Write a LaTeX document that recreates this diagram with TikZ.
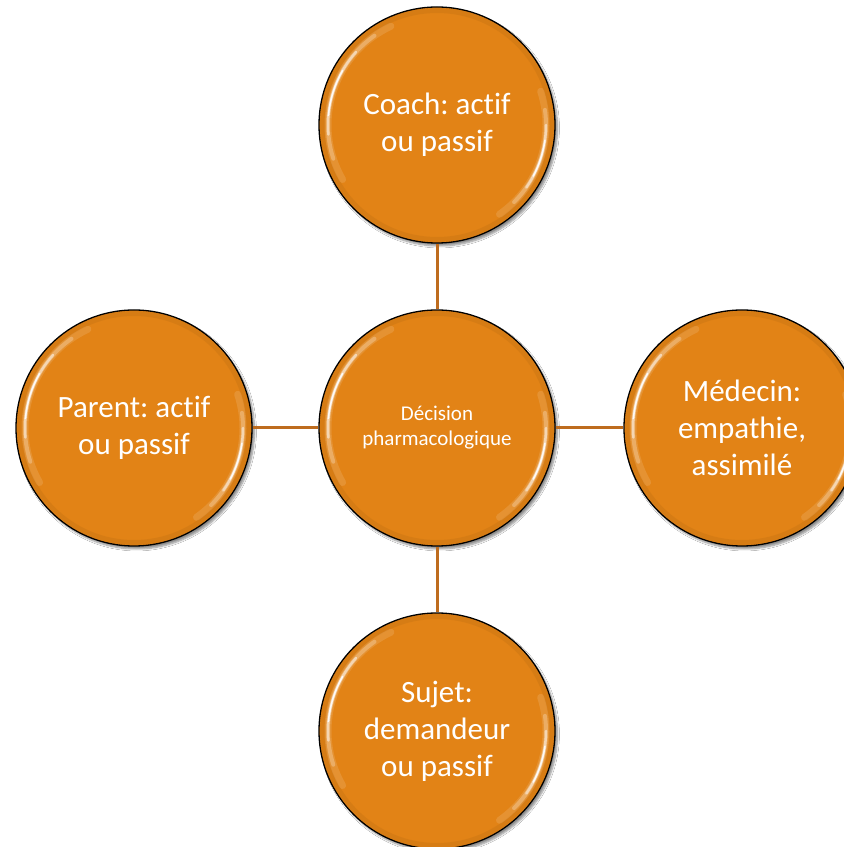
\documentclass[tikz,border=0pt]{standalone}
\usepackage{fontspec}
\setmainfont{Carlito}[Ligatures=NoCommon]
\frenchspacing
\usetikzlibrary{shadows.blur}
\definecolor{orbfill}{RGB}{226,131,22}
\definecolor{linkcol}{RGB}{190,108,30}
\tikzset{
  orb/.style={circle, draw=black, line width=1.3pt, fill=orbfill, minimum size=236pt,
    inner sep=0pt, text=white, align=center, font=\fontsize{31}{37}\selectfont,
    blur shadow={shadow xshift=2.5pt, shadow yshift=-3pt, shadow blur steps=6, shadow opacity=45}},
  smalltext/.style={font=\fontsize{21}{25}\selectfont},
  linkline/.style={draw=linkcol, line width=3pt},
  gloss/.style={white, line cap=round}
}
\begin{document}
\begin{tikzpicture}[x=1pt,y=1pt]
\clip (0,0) rectangle (844,847);
\fill[white] (0,0) rectangle (844,847);
\node[orb] (T) at (437,722) {Coach: actif\\ou passif};
\node[orb] (L) at (134,419) {Parent: actif\\ou passif};
\node[orb, smalltext] (C) at (437,419) {Décision\\pharmacologique};
\node[orb] (R) at (742,419) {Médecin:\\empathie,\\assimilé};
\node[orb] (B) at (437,116) {Sujet:\\demandeur\\ou passif};
\draw[linkline] (C) -- (T);
\draw[linkline] (C) -- (L);
\draw[linkline] (C) -- (R);
\draw[linkline] (C) -- (B);
\foreach \n in {T,L,C,R,B}{
  \draw[orbfill!80!black, line width=5pt, opacity=.25] (\n.center) circle[radius=114.5pt];
  \draw[gloss, line width=7pt, opacity=.12] ([shift={(115:109pt)}]\n.center) arc[start angle=115, end angle=210, radius=109pt];
  \draw[gloss, line width=4pt, opacity=.25] ([shift={(125:109pt)}]\n.center) arc[start angle=125, end angle=198, radius=109pt];
  \draw[gloss, line width=2.5pt, opacity=.5] ([shift={(138:109pt)}]\n.center) arc[start angle=138, end angle=185, radius=109pt];
  \draw[gloss, line width=1.5pt, opacity=.9] ([shift={(150:109pt)}]\n.center) arc[start angle=150, end angle=175, radius=109pt];
  \draw[gloss, line width=7pt, opacity=.12] ([shift={(-55:109pt)}]\n.center) arc[start angle=-55, end angle=18, radius=109pt];
  \draw[gloss, line width=4pt, opacity=.25] ([shift={(-45:109pt)}]\n.center) arc[start angle=-45, end angle=8, radius=109pt];
  \draw[gloss, line width=2.5pt, opacity=.5] ([shift={(-35:109pt)}]\n.center) arc[start angle=-35, end angle=0, radius=109pt];
  \draw[gloss, line width=1.5pt, opacity=.9] ([shift={(-28:109pt)}]\n.center) arc[start angle=-28, end angle=-8, radius=109pt];
}
\end{tikzpicture}
\end{document}
